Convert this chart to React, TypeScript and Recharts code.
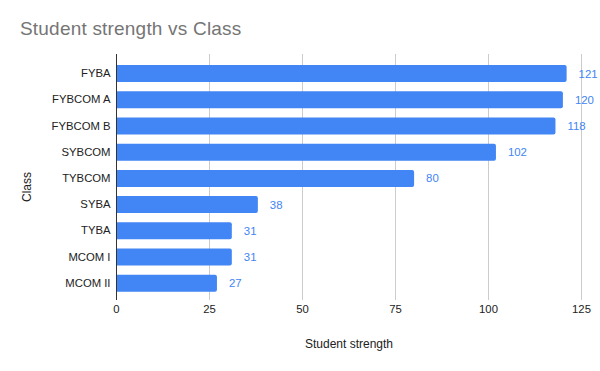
import React from "react";
import { BarChart, Bar, XAxis, YAxis, CartesianGrid, LabelList } from "recharts";

const classes = ["FYBA", "FYBCOM A", "FYBCOM B", "SYBCOM", "TYBCOM", "SYBA", "TYBA", "MCOM I", "MCOM II"];
const strengths = [121, 120, 118, 102, 80, 38, 31, 31, 27];
const xTicks = [0, 25, 50, 75, 100, 125];

const data = classes.map((c, i) => ({ name: c, value: strengths[i] }));

const FONT = "'Liberation Sans', Arial, sans-serif";

export default function App() {
  return (
    <div style={{ position: "absolute", left: 0, top: 0, width: 600, height: 371, background: "#fff", fontFamily: FONT }}>
      <div style={{ position: "absolute", left: 20, top: 18, fontSize: 19, letterSpacing: "0.2px", color: "#757575", fontFamily: FONT, whiteSpace: "nowrap" }}>
        Student strength vs Class
      </div>
      <div style={{ position: "absolute", left: 349, top: 337, transform: "translateX(-50%)", fontSize: 12, color: "#222", whiteSpace: "nowrap" }}>
        Student strength
      </div>
      <div style={{ position: "absolute", left: 27, top: 187, transform: "translate(-50%,-50%) rotate(-90deg)", fontSize: 12, color: "#222", whiteSpace: "nowrap" }}>
        Class
      </div>
      <BarChart
        width={600}
        height={371}
        data={data}
        layout="vertical"
        margin={{ top: 54, right: 18.5, bottom: 41, left: 16.5 }}
        style={{ position: "absolute", left: 0, top: 0 }}
      >
        <CartesianGrid horizontal={false} stroke="#cccccc" />
        <XAxis
          type="number"
          domain={[0, 125]}
          ticks={xTicks}
          axisLine={false}
          tickLine={false}
          tickSize={0}
          tickMargin={5}
          height={30}
          tick={{ fontSize: 11.3, fill: "#222", fontFamily: FONT }}
        />
        <YAxis
          type="category"
          dataKey="name"
          width={100}
          padding={{ top: 6, bottom: 4 }}
          axisLine={{ stroke: "#333", strokeWidth: 1 }}
          tickLine={false}
          tickSize={0}
          tickMargin={6}
          interval={0}
          tick={{ fontSize: 11.3, fill: "#222", fontFamily: FONT }}
        />
        <Bar dataKey="value" fill="#4285F4" barSize={17} radius={[0, 2, 2, 0]} isAnimationActive={false}>
          <LabelList dataKey="value" position="right" offset={12} style={{ fontSize: 11.4, fill: "#4285F4", fontFamily: FONT }} />
        </Bar>
      </BarChart>
    </div>
  );
}
